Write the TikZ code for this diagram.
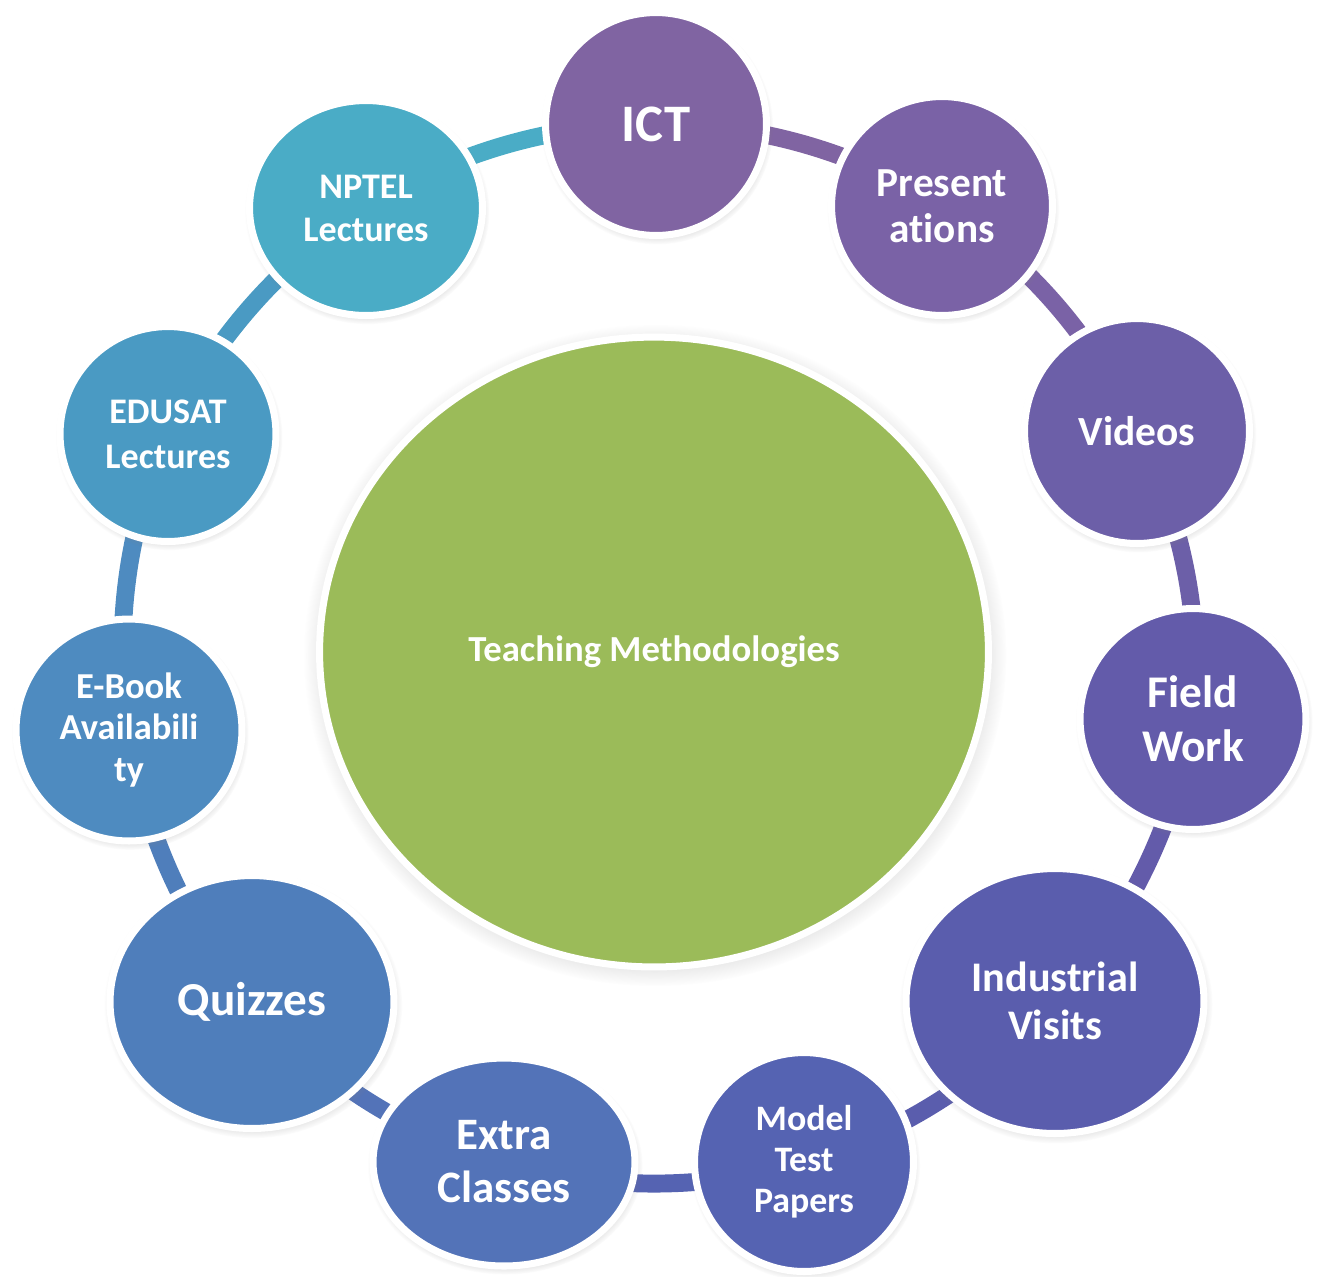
\documentclass[tikz,border=0pt]{standalone}
\usepackage{fontspec}
\setmainfont{Carlito}[Ligatures=NoCommon]
\usetikzlibrary{shapes.geometric,shadows,backgrounds}

\definecolor{ictcol}{HTML}{8064A2}
\definecolor{prescol}{HTML}{7A62A6}
\definecolor{vidcol}{HTML}{6C5FA8}
\definecolor{fieldcol}{HTML}{635BAA}
\definecolor{induscol}{HTML}{5A5DAD}
\definecolor{modelcol}{HTML}{5563B2}
\definecolor{extracol}{HTML}{5373B8}
\definecolor{quizcol}{HTML}{4F7EBB}
\definecolor{ebookcol}{HTML}{4E8BC0}
\definecolor{edusatcol}{HTML}{4A9AC3}
\definecolor{nptelcol}{HTML}{4AACC6}
\definecolor{centrecol}{HTML}{9BBB59}

\newcommand{\nodefont}[2]{\fontsize{#1}{#2}\selectfont\bfseries}

\begin{document}
\begin{tikzpicture}[x=0.02cm,y=-0.02cm,
        main node/.style={ellipse,draw=white,line width=4pt,text=white,align=center,
            inner sep=0pt,circular drop shadow={opacity=0.45,shadow scale=1.05,
            shadow xshift=0.6pt,shadow yshift=-1.8pt}},
        ring seg/.style={draw=#1,line width=10.2pt,bend left=16.4,looseness=0.87}]

        \useasboundingbox (0,0) rectangle (1317,1276);

        % Define vertices
        \node[main node,fill=centrecol,minimum width=13.38cm,minimum height=12.6cm,
            font=\nodefont{20.9}{25}] (centre) at (654,652) {Teaching Methodologies};

        \node[main node,fill=ictcol,minimum width=4.42cm,minimum height=4.46cm,
            font=\nodefont{30}{36}] (ict) at (656,124) {ICT};
        \node[main node,fill=prescol,minimum width=4.42cm,minimum height=4.38cm,
            font=\nodefont{23.5}{26.2}] (pres) at (942,206) {Present\\ations};
        \node[main node,fill=vidcol,minimum width=4.5cm,minimum height=4.5cm,
            font=\nodefont{23.6}{28}] (vid) at (1137,431) {Videos};
        \node[main node,fill=fieldcol,minimum width=4.52cm,minimum height=4.42cm,
            font=\nodefont{25.8}{30.7}] (field) at (1193,719) {Field\\Work};
        \node[main node,fill=induscol,minimum width=5.96cm,minimum height=5.3cm,
            font=\nodefont{24}{27.3}] (indus) at (1055,1001) {Industrial\\Visits};
        \node[main node,fill=modelcol,minimum width=4.38cm,minimum height=4.38cm,
            font=\nodefont{20.4}{23.3}] (model) at (804,1162) {Model\\Test\\Papers};
        \node[main node,fill=extracol,minimum width=5.24cm,minimum height=4.16cm,
            font=\nodefont{25.6}{30.2}] (extra) at (504,1162) {Extra\\Classes};
        \node[main node,fill=quizcol,minimum width=5.68cm,minimum height=5.06cm,
            font=\nodefont{26.9}{32}] (quiz) at (252,1002) {Quizzes};
        \node[main node,fill=ebookcol,minimum width=4.52cm,minimum height=4.44cm,
            font=\nodefont{20.8}{23.7}] (ebook) at (129,730) {E-Book\\Availabili\\ty};
        \node[main node,fill=edusatcol,minimum width=4.32cm,minimum height=4.3cm,
            font=\nodefont{20.5}{25.6}] (edusat) at (168,434) {EDUSAT\\Lectures};
        \node[main node,fill=nptelcol,minimum width=4.66cm,minimum height=4.3cm,
            font=\nodefont{20.5}{24.5}] (nptel) at (366,208) {NPTEL\\Lectures};

        % Draw edges
        \begin{scope}[on background layer]
        \path
            (ict.center) edge[ring seg=ictcol] (pres.center)
            (pres.center) edge[ring seg=prescol] (vid.center)
            (vid.center) edge[ring seg=vidcol] (field.center)
            (field.center) edge[ring seg=fieldcol] (indus.center)
            (indus.center) edge[ring seg=induscol] (model.center)
            (model.center) edge[ring seg=modelcol] (extra.center)
            (extra.center) edge[ring seg=extracol] (quiz.center)
            (quiz.center) edge[ring seg=quizcol] (ebook.center)
            (ebook.center) edge[ring seg=ebookcol] (edusat.center)
            (edusat.center) edge[ring seg=edusatcol] (nptel.center)
            (nptel.center) edge[ring seg=nptelcol] (ict.center);
        \end{scope}

        \end{tikzpicture}
\end{document}
